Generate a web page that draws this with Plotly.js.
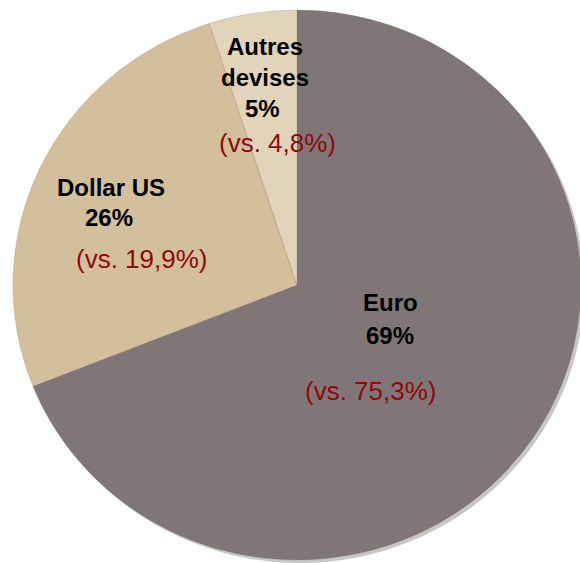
<!DOCTYPE html>
<html>
<head>
<meta charset="utf-8">
<script src="https://cdn.plot.ly/plotly-3.0.1.min.js"></script>
<style>
html,body{margin:0;padding:0;background:#fff;overflow:hidden;}
#chart{width:580px;height:580px;}
</style>
</head>
<body>
<div id="chart"></div>
<script>
// Data
const labels = ["Euro", "Dollar US", "Autres devises"];
const labelLines = [["Euro"], ["Dollar US"], ["Autres", "devises"]];
const values = [69, 26, 5];
const previous = ["75,3%", "19,9%", "4,8%"];
const colors = ["#807678", "#d4bf9c", "#e2d4ba"];

const W = 580, H = 580;
const cx = 297, cy = 285, R = 275, RX = 284;
const px = x => x / W;
const py = y => 1 - y / H;

const total = values.reduce((a, b) => a + b, 0);

const shadow = {
  type: 'pie',
  values: [total],
  labels: ['shadow'],
  sort: false,
  textinfo: 'none',
  hoverinfo: 'skip',
  marker: {colors: ['rgba(60,50,50,0.28)'], line: {width: 0}},
  domain: {x: [px(cx - R + 3), px(cx + R + 3)], y: [py(cy + R + 3), py(cy - R + 3)]},
  showlegend: false
};

const pie = {
  type: 'pie',
  values: values,
  labels: labels,
  sort: false,
  direction: 'clockwise',
  rotation: 0,
  textinfo: 'none',
  hoverinfo: 'label+percent',
  marker: {colors: colors, line: {color: 'rgba(120,105,90,0.35)', width: 0.6}},
  domain: {x: [px(cx - R), px(cx + R)], y: [py(cy + R), py(cy - R)]},
  showlegend: false
};

const pos = [
  {nx: 390, ny: [302], px_: 390, py_: 335, vx: 371, vy: 391},
  {nx: 111, ny: [187], px_: 109, py_: 218, vx: 142, vy: 259},
  {nx: 265, ny: [46, 78], px_: 262, py_: 108, vx: 277, vy: 143}
];

const boldFont = {family: 'Liberation Sans, Arial, sans-serif', size: 24, color: '#000'};
const redFont = {family: 'Liberation Sans, Arial, sans-serif', size: 26, color: '#8e0a0a'};

const annotations = [];
labels.forEach((lab, i) => {
  const p = pos[i];
  labelLines[i].forEach((line, j) => {
    annotations.push({xref: 'paper', yref: 'paper', x: px(p.nx), y: py(p.ny[j]),
      xanchor: 'center', yanchor: 'middle', showarrow: false,
      text: '<b>' + line + '</b>', font: boldFont});
  });
  annotations.push({xref: 'paper', yref: 'paper', x: px(p.px_), y: py(p.py_),
    xanchor: 'center', yanchor: 'middle', showarrow: false,
    text: '<b>' + Math.round(values[i] / total * 100) + '%</b>', font: boldFont});
  annotations.push({xref: 'paper', yref: 'paper', x: px(p.vx), y: py(p.vy),
    xanchor: 'center', yanchor: 'middle', showarrow: false,
    text: '(vs. ' + previous[i] + ')', font: redFont});
});

const layout = {
  width: W, height: H,
  margin: {l: 0, r: 0, t: 0, b: 0},
  paper_bgcolor: '#fff',
  plot_bgcolor: '#fff',
  showlegend: false,
  annotations: annotations
};

Plotly.newPlot('chart', [shadow, pie], layout, {displayModeBar: false, staticPlot: true}).then(gd => {
  // the reference pie is slightly elliptical: stretch the pie layer horizontally about its centre
  const s = RX / R;
  const layer = gd.querySelector('.pielayer');
  if (layer) layer.setAttribute('transform', `translate(${cx},0) scale(${s},1) translate(${-cx},0)`);
});
</script>
</body>
</html>
